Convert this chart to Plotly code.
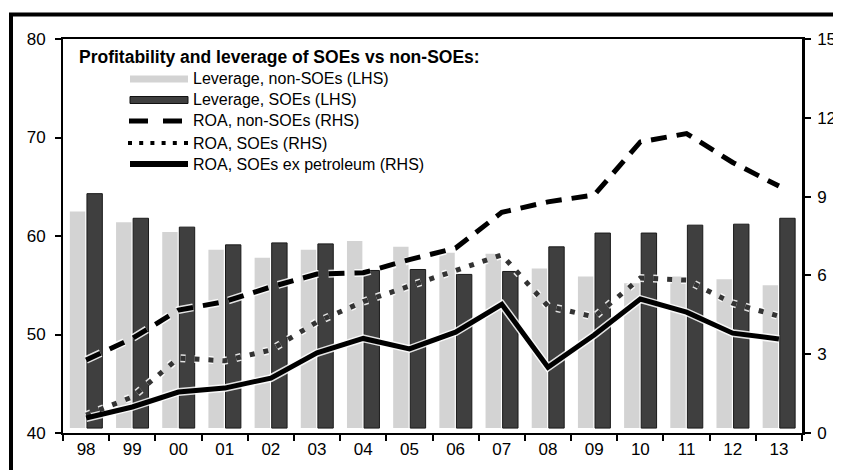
import plotly.graph_objects as go

# data
years = ['98', '99', '00', '01', '02', '03', '04', '05',
         '06', '07', '08', '09', '10', '11', '12', '13']

# leverage, % (LHS)
lev_non_soe = [62.5, 61.4, 60.4, 58.6, 57.8, 58.6, 59.5, 58.9,
               58.3, 58.2, 56.7, 55.9, 55.2, 55.9, 55.6, 55.0]
lev_soe = [64.3, 61.8, 60.9, 59.1, 59.3, 59.2, 56.5, 56.6,
           56.1, 56.4, 58.9, 60.3, 60.3, 61.1, 61.2, 61.8]

# return on assets, % (RHS)
roa_non_soe = [2.78, 3.6, 4.68, 5.0, 5.56, 6.05, 6.1, 6.6,
               7.04, 8.4, 8.8, 9.06, 11.08, 11.4, 10.3, 9.4]
roa_soe = [0.68, 1.37, 2.85, 2.75, 3.16, 4.23, 5.0, 5.6,
           6.2, 6.78, 4.83, 4.42, 5.9, 5.82, 4.94, 4.45]
roa_soe_ex = [0.57, 0.99, 1.56, 1.71, 2.09, 3.05, 3.6, 3.2,
              3.84, 4.9, 2.5, 3.73, 5.1, 4.6, 3.8, 3.58]

legend_title = 'Profitability and leverage of SOEs vs non-SOEs:'
legend_labels = ['Leverage, non-SOEs (LHS)', 'Leverage, SOEs (LHS)',
                 'ROA, non-SOEs (RHS)', 'ROA, SOEs (RHS)',
                 'ROA, SOEs ex petroleum (RHS)']

# the page body keeps its 8px margin, so the figure sits 8px in from the window corner
OFF = 8
WIN_W, WIN_H = 841, 470
PL, PR, PT, PB = 63, 802, 39, 433          # plot area in window pixels
FIG_W, FIG_H = WIN_W - OFF, WIN_H - OFF


def px(x):
    return (x - PL) / (PR - PL)


def py(y):
    return (PB - y) / (PB - PT)


LIGHT = '#d3d3d3'
DARK = '#3f3f3f'
FONT = 'Arial, Liberation Sans, sans-serif'
BASE = 40.5   # bars stop a little short of the axis line

fig = go.Figure()

fig.add_trace(go.Bar(x=years, y=[v - BASE for v in lev_non_soe], base=BASE,
                     marker=dict(color=LIGHT, line=dict(width=0)),
                     name=legend_labels[0]))
fig.add_trace(go.Bar(x=years, y=[v - BASE for v in lev_soe], base=BASE,
                     marker=dict(color=DARK, line=dict(color='#1a1a1a', width=1)),
                     name=legend_labels[1]))

lines = [
    (roa_non_soe, '16px,10px', 5, '#000000', legend_labels[2]),
    (roa_soe, '5px,9px', 5, '#333333', legend_labels[3]),
    (roa_soe_ex, 'solid', 5, '#000000', legend_labels[4]),
]
# white halo under each line first, then the lines on top
for vals, dash, w, color, name in lines:
    fig.add_trace(go.Scatter(x=years, y=vals, yaxis='y2', mode='lines',
                             line=dict(color='white', width=w + 3, dash=dash),
                             opacity=0.85, hoverinfo='skip'))
for vals, dash, w, color, name in lines:
    fig.add_trace(go.Scatter(x=years, y=vals, yaxis='y2', mode='lines',
                             line=dict(color=color, width=w, dash=dash),
                             name=name))

# legend drawn by hand so the keys are long bars like the original
shapes = []
annotations = []
rows = [79, 100, 121, 143, 164]
kx0, kx1 = 130, 188
shapes.append(dict(type='rect', xref='paper', yref='paper',
                   x0=px(kx0), x1=px(kx1), y0=py(rows[0] + 3.5), y1=py(rows[0] - 3.5),
                   fillcolor=LIGHT, line=dict(width=0)))
shapes.append(dict(type='rect', xref='paper', yref='paper',
                   x0=px(kx0), x1=px(kx1), y0=py(rows[1] + 3.5), y1=py(rows[1] - 3.5),
                   fillcolor=DARK, line=dict(color='#111111', width=1)))
shapes.append(dict(type='line', xref='paper', yref='paper',
                   x0=px(129), x1=px(182), y0=py(rows[2]), y1=py(rows[2]),
                   line=dict(color='black', width=5, dash='19px,15px')))
shapes.append(dict(type='line', xref='paper', yref='paper',
                   x0=px(128), x1=px(190), y0=py(rows[3]), y1=py(rows[3]),
                   line=dict(color='black', width=4, dash='4px,7.2px')))
shapes.append(dict(type='line', xref='paper', yref='paper',
                   x0=px(kx0), x1=px(kx1), y0=py(rows[4]), y1=py(rows[4]),
                   line=dict(color='black', width=6)))

annotations.append(dict(xref='paper', yref='paper', x=px(77), y=py(57),
                        xanchor='left', yanchor='middle', showarrow=False,
                        text='<b>' + legend_title + '</b>',
                        font=dict(family=FONT, size=17.5, color='black')))
for r, lab in zip(rows, legend_labels):
    annotations.append(dict(xref='paper', yref='paper', x=px(191), y=py(r),
                            xanchor='left', yanchor='middle', showarrow=False,
                            text=lab, font=dict(family=FONT, size=16, color='black')))

# thick outer frame of the picture
shapes.append(dict(type='rect', xref='paper', yref='paper',
                   x0=px(11), x1=px(WIN_W + 10), y0=py(WIN_H + 10), y1=py(14.5),
                   line=dict(color='black', width=4), fillcolor='rgba(0,0,0,0)'))

axis_font = dict(family=FONT, size=17, color='black')
fig.update_layout(
    width=FIG_W, height=FIG_H,
    margin=dict(l=PL - OFF, r=FIG_W + OFF - PR, t=PT - OFF, b=FIG_H + OFF - PB,
                pad=0, autoexpand=False),
    paper_bgcolor='white', plot_bgcolor='white',
    barmode='group', bargap=0.26, bargroupgap=0.1,
    showlegend=False,
    xaxis=dict(type='category', tickson='boundaries', ticks='outside',
               ticklen=6, tickwidth=2, tickcolor='black',
               showline=True, linecolor='black', linewidth=2, mirror=True,
               showgrid=False, tickfont=axis_font, automargin=False),
    yaxis=dict(range=[40, 80], dtick=10, ticks='outside', ticklen=6,
               tickwidth=2, tickcolor='black', showline=True,
               linecolor='black', linewidth=2, showgrid=False,
               zeroline=False, tickfont=axis_font, ticklabelstandoff=6,
               automargin=False),
    yaxis2=dict(range=[0, 15], dtick=3, overlaying='y', side='right',
                ticks='outside', ticklen=6, tickwidth=2, tickcolor='black',
                showline=True, linecolor='black', linewidth=2.5,
                showgrid=False, zeroline=False, tickfont=axis_font,
                ticklabelstandoff=3, automargin=False),
    shapes=shapes,
    annotations=annotations,
)

fig.write_html('out.html')
